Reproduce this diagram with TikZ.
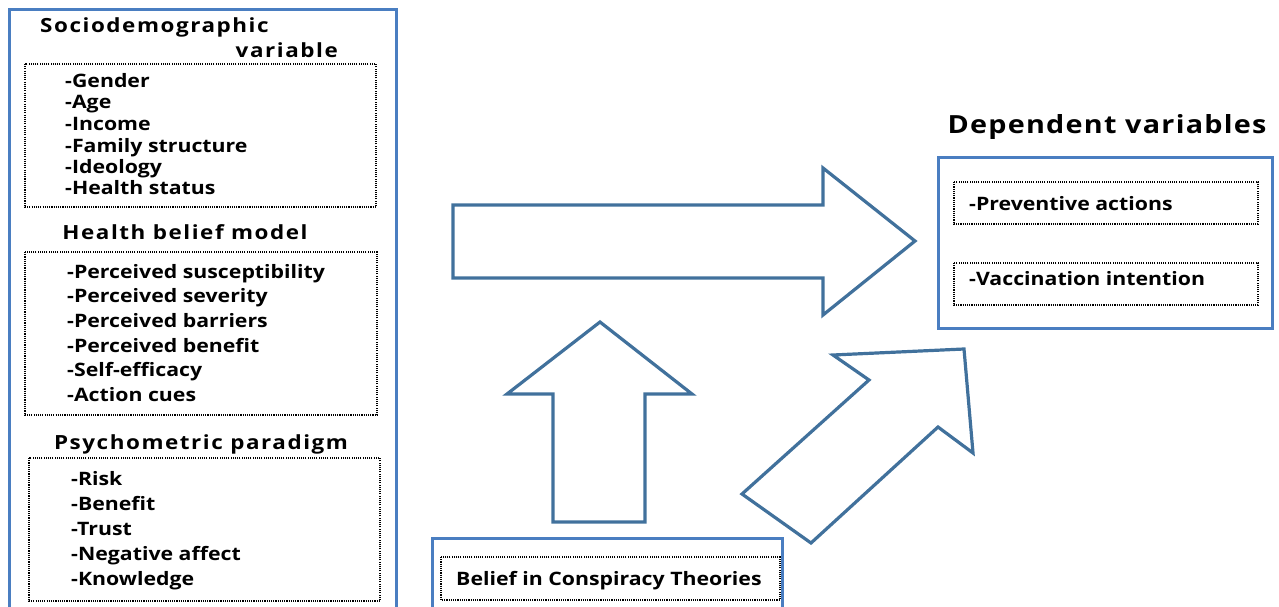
\documentclass[tikz,border=0pt]{standalone}
\usepackage{fontspec}
\setmainfont{Open Sans}[FakeStretch=1.15]
\newfontfamily\headfont{Open Sans}[FakeStretch=1.15, LetterSpace=8]
\newfontfamily\depfont{Open Sans}[FakeStretch=1.15, LetterSpace=5]
\tikzset{
  boxline/.style={color={rgb, 255:red, 74; green, 126; blue, 193}, line width=3pt},
  arrowline/.style={color={rgb, 255:red, 65; green, 113; blue, 156}, line width=3.2pt, line join=miter},
  dotbox/.style={draw=black, line width=1.1pt, dash pattern=on 1.1pt off 1.1pt},
  headtxt/.style={font=\headfont\fontsize{19.5}{22}\selectfont\bfseries, inner sep=0pt},
  itemtxt/.style={font=\fontsize{18.5}{21}\selectfont\bfseries, inner sep=0pt, anchor=base west},
}
\begin{document}
\begin{tikzpicture}[x=1pt,y=1pt,yscale=-1,xscale=1]
\clip (0,0) rectangle (1279,607);

%Shape: Rectangle (left column)
\draw [boxline] (9,10) rectangle (396,625) ;
%Dotted boxes
\draw [dotbox] (25,64) rectangle (376,207) ;
\draw [dotbox] (25,252) rectangle (377,415) ;
\draw [dotbox] (29,458) rectangle (380,601) ;

%Sociodemographic
\node [headtxt, anchor=base west] (socio) at (40,33) {Sociodemographic};
\node [headtxt, anchor=base east] (sociovar) at (338,58) {variable};
\node [itemtxt] (gender) at (65,87.5) {-Gender};
\node [itemtxt] (age) at (65,109) {-Age};
\node [itemtxt] (income) at (65,130.5) {-Income};
\node [itemtxt] (family) at (65,152) {-Family structure};
\node [itemtxt] (ideology) at (65,173.3) {-Ideology};
\node [itemtxt] (health) at (65,194.5) {-Health status};

%Health belief model
\node [headtxt, anchor=base] (hbm) at (185,239.3) {Health belief model};
\node [itemtxt] (suscept) at (67,278.3) {-Perceived susceptibility};
\node [itemtxt] (severity) at (67,302.8) {-Perceived severity};
\node [itemtxt] (barriers) at (67,327.5) {-Perceived barriers};
\node [itemtxt] (benefit) at (67,352.2) {-Perceived benefit};
\node [itemtxt] (efficacy) at (67,376.9) {-Self-efficacy};
\node [itemtxt] (cues) at (67,401.6) {-Action cues};

%Psychometric paradigm
\node [headtxt, anchor=base] (psy) at (201,449.3) {Psychometric paradigm};
\node [itemtxt] (risk) at (71,485) {-Risk};
\node [itemtxt] (psybenefit) at (71,510) {-Benefit};
\node [itemtxt] (trust) at (71,535) {-Trust};
\node [itemtxt] (negaff) at (71,560) {-Negative affect};
\node [itemtxt] (knowledge) at (71,585) {-Knowledge};

%Dependent variables
\node [font=\depfont\fontsize{25}{30}\selectfont\bfseries, inner sep=0pt, anchor=base] (dep) at (1107,133.3) {Dependent variables};
\draw [boxline] (938,157) rectangle (1272,328) ;
\draw [dotbox] (954,182) rectangle (1258,224) ;
\draw [dotbox] (954,263) rectangle (1258,305) ;
\node [itemtxt] (prevent) at (969,210) {-Preventive actions};
\node [itemtxt] (vaccine) at (969,285) {-Vaccination intention};

%Belief in Conspiracy Theories
\draw [boxline] (432,538) rectangle (782,625) ;
\draw [dotbox] (441,557) rectangle (780,600) ;
\node [itemtxt] (belief) at (456,585) {Belief in Conspiracy Theories};

%Shape: Right Arrow
\draw [arrowline] (453,205) -- (823,205) -- (823,168) -- (915,241) -- (823,315) -- (823,278) -- (453,278) -- cycle ;
%Shape: Up Arrow
\draw [arrowline] (553,522) -- (553,394) -- (507,394) -- (600,322) -- (692,394) -- (645,394) -- (645,522) -- cycle ;
%Shape: Diagonal Arrow
\draw [arrowline] (742,494) -- (869,380) -- (833,355) -- (964,349) -- (973,453) -- (938,427) -- (811,543) -- cycle ;
\end{tikzpicture}
\end{document}
